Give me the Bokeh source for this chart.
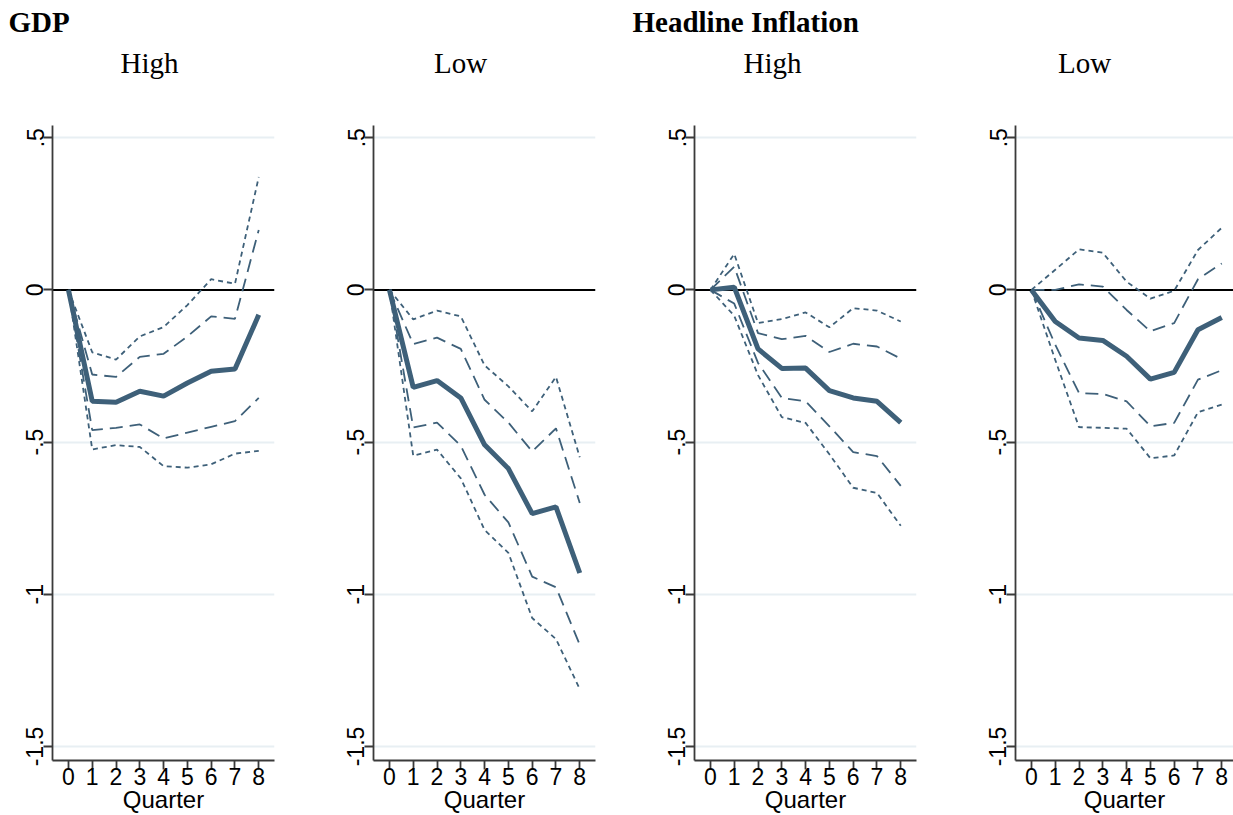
from bokeh.plotting import figure
from bokeh.models import Range1d, FixedTicker, Span
from bokeh.layouts import row, column
from bokeh.embed import file_html
from bokeh.resources import INLINE
from bokeh.core.properties import value

# Impulse responses by quarter: point estimate with 68% and 90% bands
quarters = [0, 1, 2, 3, 4, 5, 6, 7, 8]

gdp_high_irf = [0, -0.366, -0.369, -0.333, -0.349, -0.306, -0.267, -0.260, -0.082]
gdp_high_lo68 = [0, -0.461, -0.453, -0.442, -0.488, -0.469, -0.450, -0.431, -0.355]
gdp_high_hi68 = [0, -0.278, -0.286, -0.220, -0.210, -0.153, -0.087, -0.095, 0.197]
gdp_high_lo90 = [0, -0.524, -0.510, -0.516, -0.579, -0.584, -0.573, -0.538, -0.529]
gdp_high_hi90 = [0, -0.205, -0.229, -0.153, -0.122, -0.050, 0.035, 0.020, 0.371]

gdp_low_irf = [0, -0.320, -0.298, -0.355, -0.509, -0.587, -0.735, -0.713, -0.930]
gdp_low_lo68 = [0, -0.452, -0.436, -0.512, -0.673, -0.764, -0.942, -0.977, -1.166]
gdp_low_hi68 = [0, -0.178, -0.157, -0.194, -0.361, -0.436, -0.531, -0.455, -0.700]
gdp_low_lo90 = [0, -0.545, -0.525, -0.619, -0.789, -0.864, -1.078, -1.147, -1.311]
gdp_low_hi90 = [0, -0.097, -0.068, -0.087, -0.248, -0.317, -0.399, -0.286, -0.550]

inf_high_irf = [0, 0.009, -0.194, -0.258, -0.257, -0.331, -0.355, -0.366, -0.436]
inf_high_lo68 = [0, -0.045, -0.240, -0.355, -0.366, -0.448, -0.533, -0.546, -0.644]
inf_high_hi68 = [0, 0.076, -0.142, -0.162, -0.151, -0.204, -0.177, -0.186, -0.226]
inf_high_lo90 = [0, -0.085, -0.280, -0.418, -0.437, -0.540, -0.650, -0.667, -0.775]
inf_high_hi90 = [0, 0.118, -0.109, -0.096, -0.074, -0.123, -0.060, -0.068, -0.104]

inf_low_irf = [0, -0.104, -0.158, -0.166, -0.218, -0.293, -0.271, -0.131, -0.091]
inf_low_lo68 = [0, -0.180, -0.339, -0.342, -0.366, -0.448, -0.437, -0.295, -0.264]
inf_low_hi68 = [0, 0.000, 0.018, 0.011, -0.066, -0.136, -0.109, 0.035, 0.087]
inf_low_lo90 = [0, -0.230, -0.451, -0.453, -0.456, -0.553, -0.544, -0.402, -0.377]
inf_low_hi90 = [0, 0.066, 0.133, 0.122, 0.027, -0.029, -0.003, 0.131, 0.204]

y_ticks = [0.5, 0, -0.5, -1, -1.5]
y_tick_labels = [".5", "0", "-.5", "-1", "-1.5"]
grid_levels = [0.5, -0.5, -1, -1.5]

variable_titles = ["GDP", "Headline Inflation"]
state_titles = ["High", "Low", "High", "Low"]

LINE = "#3E6079"
GRID = "#E8EFF3"
AXIS = "#3A3A3A"
SANS = "Liberation Sans"
SERIF = "Liberation Serif"

X_START = -0.67
PX_PER_Q = 23.79
Y_RANGE = (-1.546, 0.540)
HEADER_H = 125
PANEL_H = 690
FRAME_H = 637


def panel(width, left, right, frame_w, irf, lo68, hi68, lo90, hi90):
    x_end = X_START + frame_w / PX_PER_Q
    p = figure(width=width, height=PANEL_H, output_backend="svg", toolbar_location=None,
               x_range=Range1d(X_START, x_end), y_range=Range1d(*Y_RANGE),
               min_border_left=left, min_border_right=right,
               min_border_top=0, min_border_bottom=PANEL_H - FRAME_H,
               background_fill_color="white", border_fill_color="white")
    p.outline_line_color = None

    p.xgrid.visible = False
    p.ygrid.ticker = FixedTicker(ticks=grid_levels)
    p.ygrid.grid_line_color = GRID
    p.ygrid.grid_line_width = 2

    p.xaxis.ticker = FixedTicker(ticks=quarters)
    p.xaxis.axis_label = "Quarter"
    p.xaxis.axis_label_text_font = SANS
    p.xaxis.axis_label_text_font_size = "24px"
    p.xaxis.axis_label_text_font_style = "normal"
    p.xaxis.axis_label_text_color = "black"
    p.xaxis.axis_label_text_line_height = 0.8
    p.xaxis.major_label_text_line_height = 0.8
    p.xaxis.axis_label_standoff = -2
    p.xaxis.major_label_standoff = -2

    p.yaxis.ticker = FixedTicker(ticks=y_ticks)
    p.yaxis.major_label_overrides = dict(zip(y_ticks, y_tick_labels))
    p.yaxis.major_label_orientation = "vertical"
    p.yaxis.major_label_standoff = 0
    for ax in (p.xaxis, p.yaxis):
        ax.axis_line_color = AXIS
        ax.axis_line_width = 1.8
        ax.major_tick_line_color = AXIS
        ax.major_tick_line_width = 1.8
        ax.major_tick_in = 0
        ax.major_tick_out = 9
        ax.minor_tick_line_color = None
        ax.major_label_text_font = SANS
        ax.major_label_text_font_size = "23px"
        ax.major_label_text_color = "black"

    p.add_layout(Span(location=0, dimension="width", line_color="black",
                      line_width=2, level="underlay"))

    p.line(quarters, irf, line_color=LINE, line_width=5)
    for band in (hi68, lo68):
        p.line(quarters, band, line_color=LINE, line_width=1.8, line_dash="13 7")
    for band in (hi90, lo90):
        p.line(quarters, band, line_color=LINE, line_width=1.8, line_dash="5 4")
    return p


# Header strip in pixel coordinates holding the variable and state headings
header = figure(width=1233, height=HEADER_H, output_backend="svg", toolbar_location=None,
                x_range=Range1d(0, 1233), y_range=Range1d(HEADER_H, 0),
                min_border=0, background_fill_color="white", border_fill_color="white")
header.outline_line_color = None
header.axis.visible = False
header.grid.visible = False
header.text(x=[8, 632], y=[21, 21], text=variable_titles,
            text_font=value(SERIF), text_font_style="bold", text_font_size="29px",
            text_color="black", text_align="left", text_baseline="alphabetic")
header.text(x=[149, 460, 772, 1084], y=[62, 62, 62, 62], text=state_titles,
            text_font=value(SERIF), text_font_size="29px",
            text_color="black", text_align="center", text_baseline="alphabetic")

p1 = panel(320, 52, 46, 222, gdp_high_irf, gdp_high_lo68, gdp_high_hi68,
           gdp_high_lo90, gdp_high_hi90)
p2 = panel(300, 53, 25, 222, gdp_low_irf, gdp_low_lo68, gdp_low_hi68,
           gdp_low_lo90, gdp_low_hi90)
p3 = panel(330, 74, 34, 222, inf_high_irf, inf_high_lo68, inf_high_hi68,
           inf_high_lo90, inf_high_hi90)
p4 = panel(283, 65, 0, 218, inf_low_irf, inf_low_lo68, inf_low_hi68,
           inf_low_lo90, inf_low_hi90)

layout = column(header, row(p1, p2, p3, p4, spacing=0), spacing=0)
open("out.html", "w").write(file_html(layout, INLINE))
